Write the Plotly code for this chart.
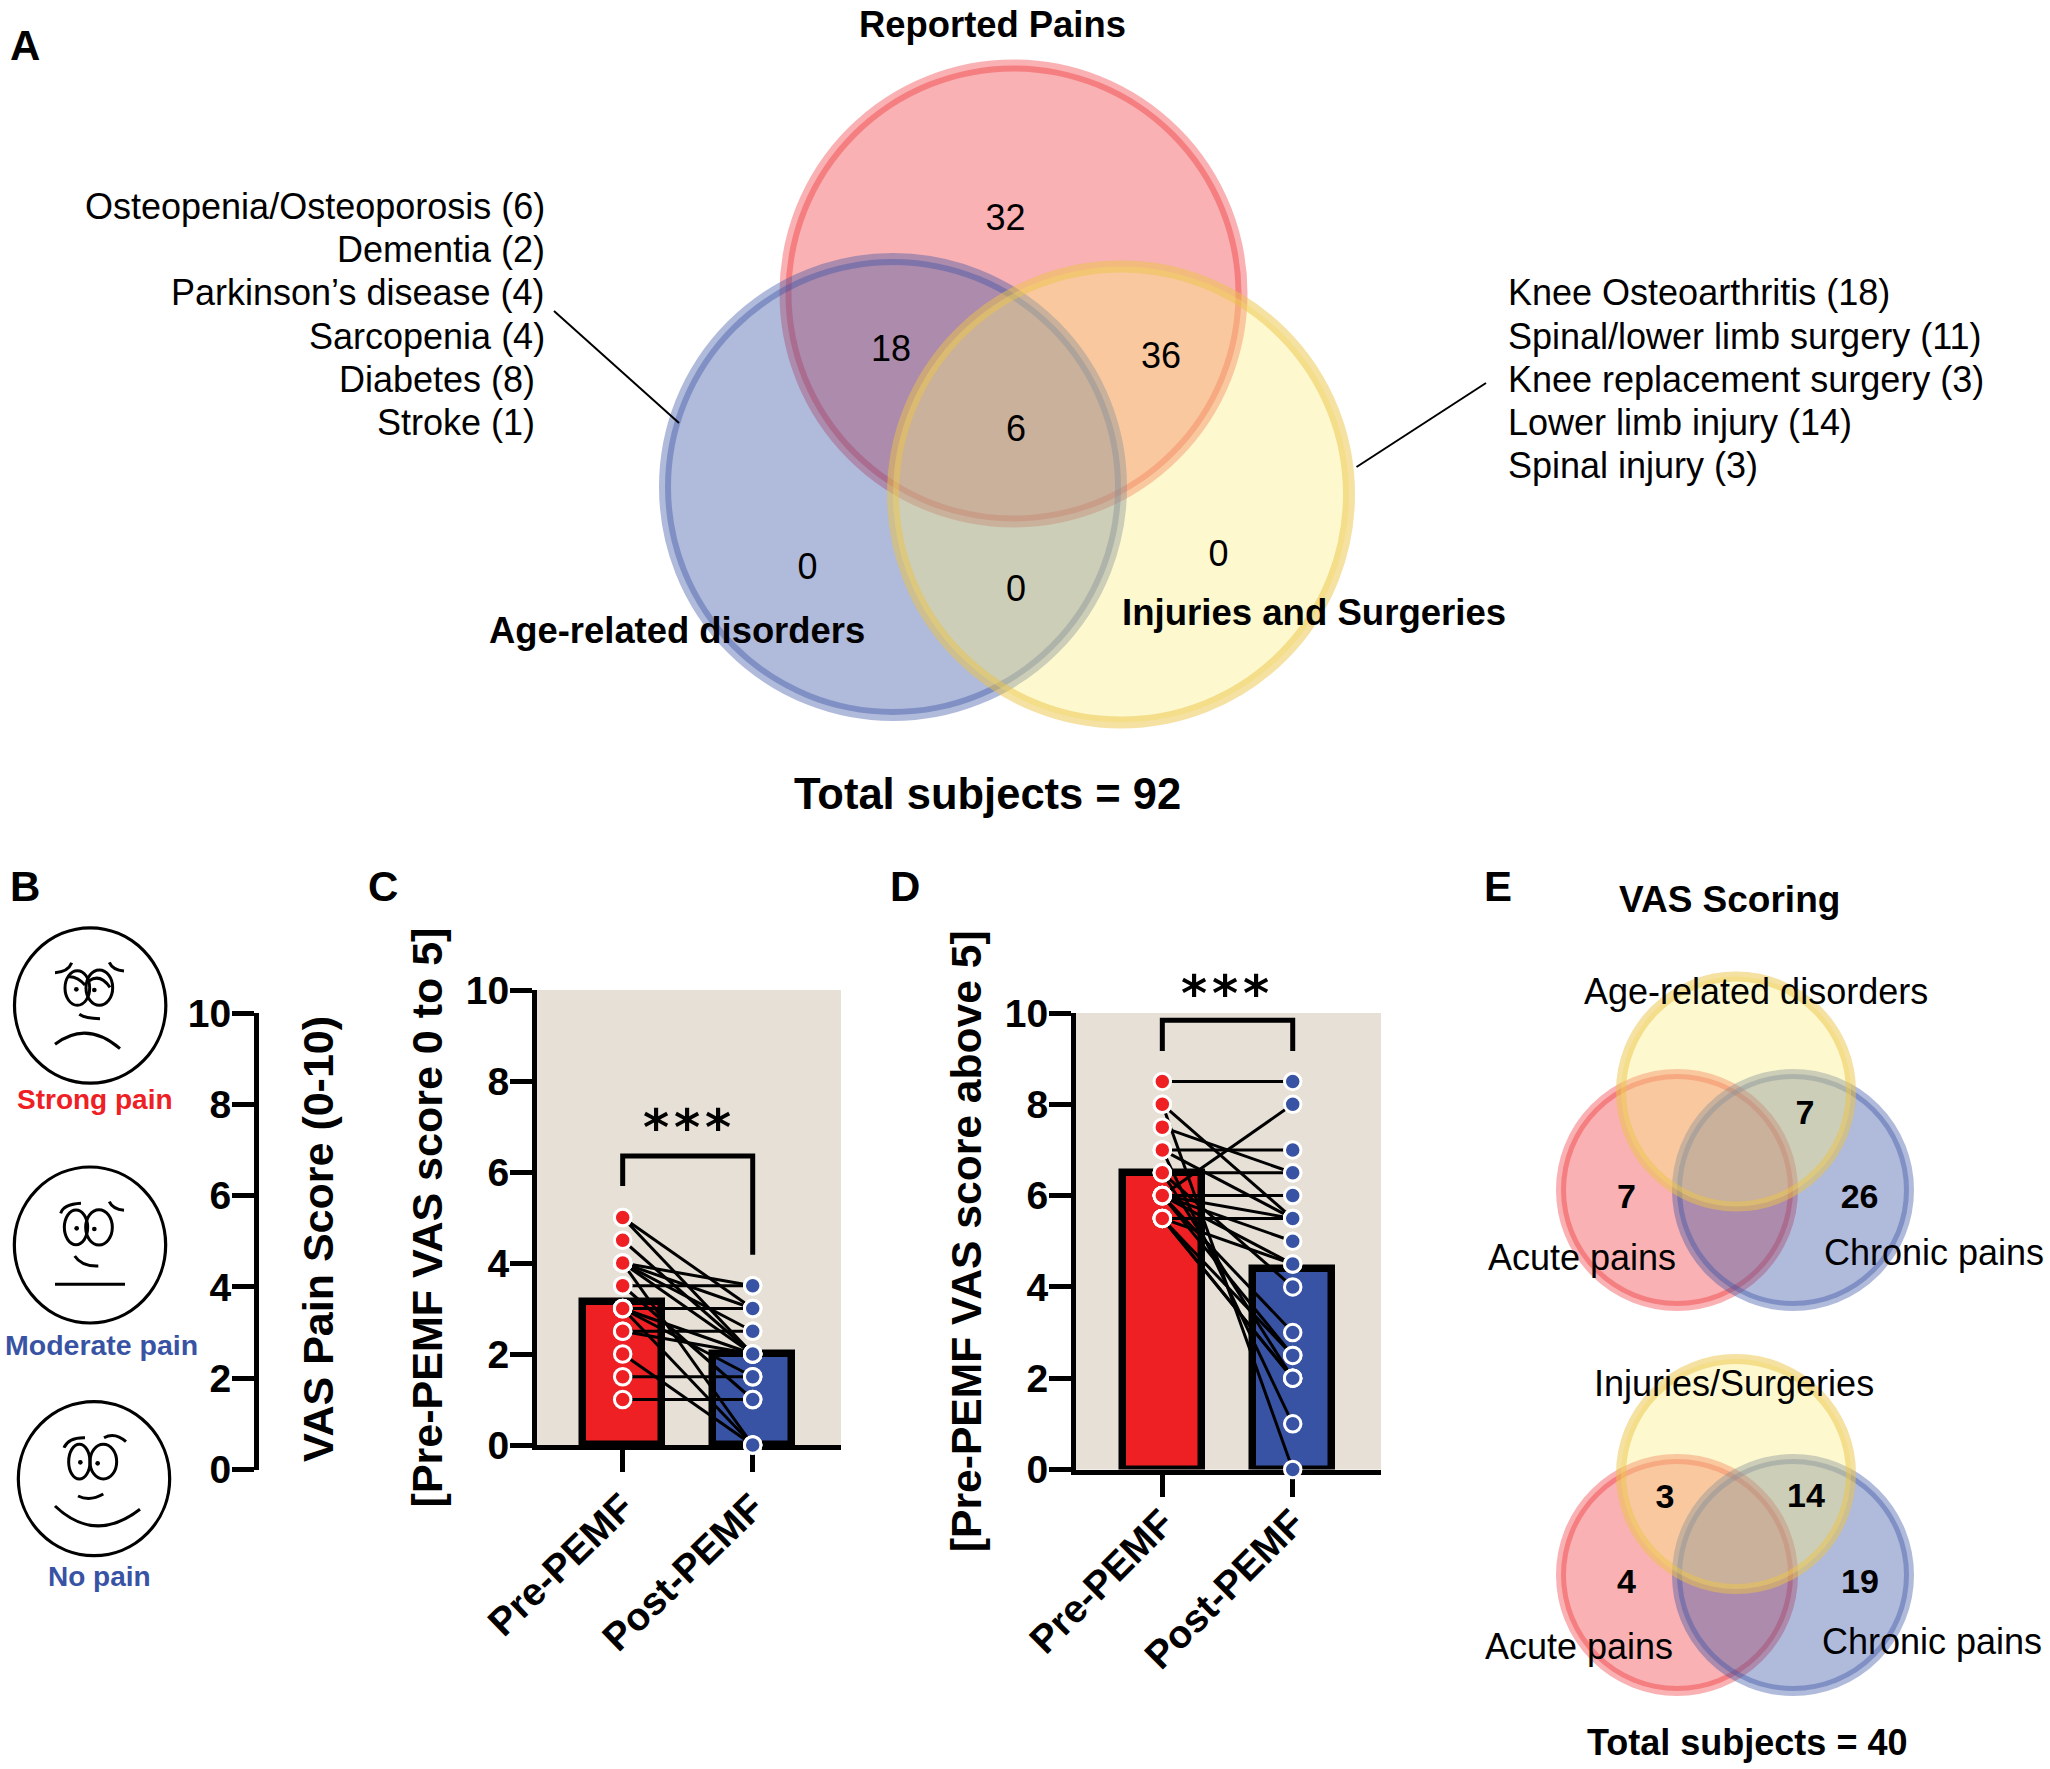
import plotly.graph_objects as go

W, H = 2050, 1769
FONT = "Liberation Sans"
RED, BLUE, BG = "#ee2024", "#3953a4", "#e6e0d6"
RED_A = "rgba(238,32,36,0.35)"
BLUE_A = "rgba(57,83,164,0.40)"
YEL_A = "rgba(250,238,130,0.39)"
YEL_L = "rgba(236,196,70,0.50)"

categories = ["Pre-PEMF", "Post-PEMF"]
bar_c = [3.15, 2.0]
bar_d = [6.5, 4.4]
yticks = [0, 2, 4, 6, 8, 10]

pre_c = [5, 5, 4.5, 4, 4, 4, 4, 4, 3.5, 3.5, 3, 3, 3, 3, 2.5, 2.5, 2, 1.5, 1]
post_c = [3, 2, 2, 3.5, 3, 2.5, 2, 0, 3.5, 1, 3, 2, 1.5, 0, 2.5, 2, 0, 1.5, 1]

pre_d = [8.5, 8, 8, 7.5, 7, 7, 7, 6.5, 6.5, 6.5, 6, 6, 6, 6, 6, 6, 6, 5.5, 5.5, 5.5, 5.5, 5.5]
post_d = [8.5, 5.5, 0, 6.5, 7, 5.5, 1, 6.5, 4, 2, 8, 6, 5.5, 5, 3, 2.5, 4.5, 5.5, 4.5, 2, 2, 2.5]

# Venn layouts: centre x, centre y, radius of the stroke centre line (canvas pixels)
venn_a = [(1013.5, 293.5, 228), (893, 487, 228), (1121, 494.5, 228)]
venn_e1 = [(1677, 1190, 116), (1793, 1190, 116), (1736, 1091.5, 115)]
venn_e2 = [(1677, 1575, 116), (1793, 1575, 116), (1736, 1474, 115)]

venn_counts = ["32", "18", "36", "6", "0", "0", "0"]
venn_count_x = [1005.5, 891, 1161, 1016, 807.5, 1016, 1218.6]
venn_count_y = [221, 352, 359, 432, 570, 592, 557]
e_counts = ["7", "7", "26", "3", "14", "4", "19"]
e_count_x = [1805, 1626.5, 1859.6, 1665, 1806, 1626.5, 1860]
e_count_y = [1115.5, 1199, 1199, 1499, 1498, 1584.6, 1584.6]

left_list = ["Osteopenia/Osteoporosis (6)", "Dementia (2)", "Parkinson’s disease (4)",
             "Sarcopenia (4)", "Diabetes (8)", "Stroke (1)"]
left_list_x = [546.6, 546.6, 546.6, 546.6, 536.6, 536.6]
left_list_y = [206.6, 249.7, 292.9, 336, 379, 422.3]
right_list = ["Knee Osteoarthritis (18)", "Spinal/lower limb surgery (11)",
              "Knee replacement surgery (3)", "Lower limb injury (14)", "Spinal injury (3)"]
right_list_y = [292.9, 336, 379, 422.3, 465.4]

fig = go.Figure()


def px_x(v):
    return v / W


def px_y(v):
    return 1 - v / H


# ---- panels C and D: paired bars ----
def paired(xa, ya, bars, pre, post):
    fig.add_trace(go.Bar(x=categories, y=bars, width=0.61, xaxis=xa, yaxis=ya,
                         marker=dict(color=[RED, BLUE], line=dict(color="black", width=7.5)),
                         hoverinfo="y"))
    for a, b in zip(pre, post):
        fig.add_trace(go.Scatter(x=categories, y=[a, b], mode="lines", xaxis=xa, yaxis=ya,
                                 line=dict(color="black", width=3), hoverinfo="skip", cliponaxis=False))
    for name, vals, col in ((categories[0], pre, RED), (categories[1], post, BLUE)):
        fig.add_trace(go.Scatter(x=[name] * len(vals), y=vals, mode="markers", xaxis=xa, yaxis=ya,
                                 cliponaxis=False,
                                 marker=dict(color=col, size=16.5, line=dict(color="white", width=3))))


paired("x", "y", bar_c, pre_c, post_c)
paired("x2", "y2", bar_d, pre_d, post_d)

# significance brackets
fig.add_trace(go.Scatter(x=[categories[0], categories[0], categories[1], categories[1]],
                         y=[5.69, 6.35, 6.35, 4.18], mode="lines", xaxis="x", yaxis="y",
                         line=dict(color="black", width=5), hoverinfo="skip"))
fig.add_trace(go.Scatter(x=[categories[0], categories[0], categories[1], categories[1]],
                         y=[9.17, 9.84, 9.84, 9.17], mode="lines", xaxis="x2", yaxis="y2",
                         line=dict(color="black", width=5), hoverinfo="skip"))

# panel B axis carrier
fig.add_trace(go.Scatter(x=[0], y=[0], mode="markers", xaxis="x3", yaxis="y3",
                         marker=dict(opacity=0), hoverinfo="skip"))

# Venn counts in canvas coordinates
fig.add_trace(go.Scatter(x=venn_count_x, y=venn_count_y, text=venn_counts, mode="text", xaxis="x4", yaxis="y4",
                         textposition="middle center", textfont=dict(family=FONT, size=36, color="black"),
                         hoverinfo="skip"))
fig.add_trace(go.Scatter(x=e_count_x, y=e_count_y, text=e_counts, mode="text", xaxis="x4", yaxis="y4",
                         textposition="middle center",
                         textfont=dict(family=FONT, size=34, color="black", weight=700), hoverinfo="skip"))


def yaxis(top, bottom, left_anchor, title, standoff, tfont=42.6):
    return dict(domain=[px_y(bottom), px_y(top)], range=[0, 10], anchor=left_anchor, tickmode="array",
                tickvals=yticks, ticks="outside", ticklen=22, tickwidth=5, tickcolor="black",
                showline=True, linewidth=5, linecolor="black", showgrid=False, zeroline=False, automargin=False,
                tickfont=dict(family=FONT, size=39, color="black", weight=700), ticklabelstandoff=-7,
                title=dict(text=title, standoff=standoff, font=dict(family=FONT, size=tfont, color="black", weight=700)),
                layer="below traces")


def xaxis(left, right, r0, r1, anchor, angle, off):
    return dict(domain=[px_x(left), px_x(right)], range=[r0, r1], anchor=anchor, type="category",
                categoryorder="array", categoryarray=categories, tickangle=angle, automargin=False,
                ticks="outside", ticklen=22, tickwidth=5, tickcolor="black", ticklabelstandoff=off,
                showline=True, linewidth=5, linecolor="black", showgrid=False, zeroline=False,
                tickfont=dict(family=FONT, size=39, color="black", weight=700), layer="below traces")


shapes = []
for ax, ay in (("x", "y"), ("x2", "y2")):
    shapes.append(dict(type="rect", xref=f"{ax} domain", yref=f"{ay} domain", x0=0, x1=1, y0=0, y1=1,
                       fillcolor=BG, line=dict(width=0), layer="below"))


def canvas(**kw):
    d = dict(xref="x4", yref="y4", layer="below")
    d.update(kw)
    return d


def venn(layout, colours, lw):
    for (cx, cy, r), (fill, line) in zip(layout, colours):
        shapes.append(canvas(type="circle", x0=cx - r, x1=cx + r, y0=cy - r, y1=cy + r,
                             fillcolor=fill, line=dict(color=line, width=lw)))


venn_cols = [(RED_A, RED_A), (BLUE_A, BLUE_A), (YEL_A, YEL_L)]
venn(venn_a, venn_cols, 12)
venn(venn_e1, venn_cols, 10)
venn(venn_e2, venn_cols, 10)

# leader lines
shapes.append(canvas(type="line", x0=554, y0=311, x1=679, y1=423, line=dict(color="black", width=2)))
shapes.append(canvas(type="line", x0=1356.5, y0=467, x1=1486, y1=383, line=dict(color="black", width=2)))


# ---- faces ----
def ell(ox, oy, cx, cy, rx, ry, lw=3, fill="rgba(0,0,0,0)"):
    shapes.append(canvas(type="circle", x0=ox + (cx - rx) / 3, x1=ox + (cx + rx) / 3,
                         y0=oy + (cy - ry) / 3, y1=oy + (cy + ry) / 3,
                         fillcolor=fill, line=dict(color="black", width=lw)))


def curve(ox, oy, p0, c, p1, lw=3):
    f = lambda p: f"{ox + p[0] / 3:.1f},{oy + p[1] / 3:.1f}"
    shapes.append(canvas(type="path", path=f"M{f(p0)} Q{f(c)} {f(p1)}", line=dict(color="black", width=lw)))


face_1 = dict(oy=910, head=(270.5, 286.5, 227, 233),
              eyes=[(232, 234, 37, 52), (298, 233, 40, 53)], pupils=[(229, 238), (283, 240)],
              curves=[((165, 188), (205, 185), (215, 158)), ((328, 157), (338, 180), (372, 183)),
                      ((205, 200), (232, 198), (255, 225)), ((268, 212), (300, 190), (330, 232)),
                      ((238, 313), (255, 325), (300, 326)), ((165, 403), (260, 330), (360, 416))])
face_2 = dict(oy=1150, head=(270, 285, 227, 234),
              eyes=[(228, 232, 35, 52), (297, 232, 40, 53)], pupils=[(230, 235), (283, 237)],
              curves=[((182, 190), (190, 163), (243, 160)), ((328, 155), (338, 178), (372, 181)),
                      ((224, 318), (245, 350), (295, 348)), ((165, 403), (270, 403), (375, 403))])
face_3 = dict(oy=1390, head=(282, 266, 227, 231),
              eyes=[(238, 215, 32, 52), (310, 215, 40, 52)], pupils=[(241, 217), (293, 220)],
              curves=[((192, 173), (205, 142), (255, 143)), ((312, 143), (345, 125), (378, 155)),
                      ((234, 318), (270, 335), (310, 312)), ((165, 348), (285, 462), (420, 358))])
for face in (face_1, face_2, face_3):
    oy = face["oy"]
    ell(0, oy, *face["head"], lw=3.2)
    for e in face["eyes"]:
        ell(0, oy, *e)
    for px, py in face["pupils"]:
        ell(0, oy, px, py, 7, 7, lw=0, fill="black")
    for p0, c, p1 in face["curves"]:
        curve(0, oy, p0, c, p1)

# ---- texts ----
ann = []


def text(t, x, y, size=36, bold=False, color="black", xanchor="center", family=FONT, angle=0):
    ann.append(dict(text=t, x=x, y=y, xref="x4", yref="y4", showarrow=False, xanchor=xanchor, yanchor="middle",
                    textangle=angle,
                    font=dict(family=family, size=size, color=color, weight=700 if bold else 400)))


for label, x, y in zip(["A", "B", "C", "D", "E"], [25, 25, 383, 905, 1498], [45, 886, 886, 886, 886]):
    text(label, x, y, size=42, bold=True)

text("Reported Pains", 992, 24, size=36.4, bold=True)
text("Age-related disorders", 677, 630, size=36.4, bold=True)
text("Injuries and Surgeries", 1314, 612, size=36.6, bold=True)
text("Total subjects = 92", 987, 793.6, size=43.5, bold=True)
for t, x, y in zip(left_list, left_list_x, left_list_y):
    text(t, x, y, size=36, xanchor="right")
for t, y in zip(right_list, right_list_y):
    text(t, 1506, y, size=36, xanchor="left")

text("Strong pain", 95, 1099, size=28, bold=True, color=RED)
text("Moderate pain", 101, 1345, size=28.5, bold=True, color=BLUE)
text("No pain", 99, 1576, size=28, bold=True, color=BLUE)
text("VAS Pain Score (0-10)", 318, 1239, size=43, bold=True, angle=-90)

text("VAS Scoring", 1729, 899, size=37, bold=True)
text("Age-related disorders", 1756, 991, size=36)
text("Acute pains", 1582, 1257, size=36)
text("Chronic pains", 1934, 1252, size=36)
text("Injuries/Surgeries", 1734, 1383, size=36)
text("Acute pains", 1579, 1646, size=36)
text("Chronic pains", 1932, 1641, size=36)
text("Total subjects = 40", 1746.5, 1742, size=36, bold=True)

for cx, cy in ((686.7, 1128), (1225, 994)):
    for dx in (-31, 0, 31):
        text("*", cx + dx, cy, size=50, bold=True, family="DejaVu Sans")

fig.update_layout(
    template="none",
    width=W, height=H, margin=dict(l=0, r=0, t=0, b=0), autosize=False,
    paper_bgcolor="white", plot_bgcolor="rgba(0,0,0,0)", showlegend=False, bargap=0,
    xaxis=xaxis(537, 841, -0.659, 1.679, "y", -44, -3),
    yaxis=yaxis(990, 1445, "x", "[Pre-PEMF VAS score 0 to 5]", 11, 43),
    xaxis2=xaxis(1076, 1381, -0.662, 1.677, "y2", -45, -12),
    yaxis2=yaxis(1013, 1469.5, "x2", "[Pre-PEMF VAS score above 5]", 11, 42.6),
    xaxis3=dict(domain=[px_x(259), px_x(270)], range=[0, 1], visible=False, anchor="y3", automargin=False),
    yaxis3=yaxis(1013, 1469.5, "x3", "", 22),
    xaxis4=dict(domain=[0, 1], range=[0, W], visible=False, anchor="y4", fixedrange=True, automargin=False),
    yaxis4=dict(domain=[0, 1], range=[H, 0], visible=False, anchor="x4", fixedrange=True, automargin=False),
    shapes=shapes, annotations=ann,
)

fig.write_html("out.html", config=dict(displayModeBar=False),
               post_script="document.body.style.margin='0';document.body.style.overflow='hidden';")
